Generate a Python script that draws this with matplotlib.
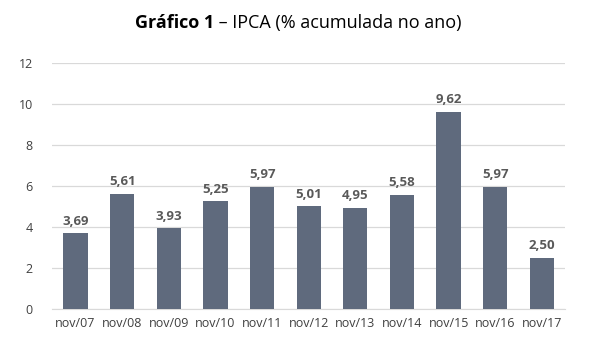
import matplotlib
matplotlib.use("Agg")
import matplotlib.pyplot as plt

categories = ["nov/07", "nov/08", "nov/09", "nov/10", "nov/11", "nov/12",
              "nov/13", "nov/14", "nov/15", "nov/16", "nov/17"]
values = [3.69, 5.61, 3.93, 5.25, 5.97, 5.01, 4.95, 5.58, 9.62, 5.97, 2.50]
yticks = [0, 2, 4, 6, 8, 10, 12]

plt.rcParams['font.family'] = ['Open Sans', 'DejaVu Sans']

fig = plt.figure(figsize=(6.0, 3.52), dpi=100)
ax = fig.add_axes([0.087, 0.122, 0.855, 0.699])

x = list(range(len(categories)))
bars = ax.bar(x, values, width=0.52, color="#5F6A7D", zorder=3)
for xi, v in zip(x, values):
    ax.annotate(f"{v:.2f}".replace(".", ","), (xi, v), xytext=(0, 4),
                textcoords="offset points", ha="center", va="bottom",
                fontsize=9.5, fontweight="bold", color="#595959")

ax.set_xlim(-0.5, len(categories) - 0.5)
ax.set_ylim(0, 12)
ax.set_yticks(yticks)
ax.set_yticklabels([str(t) for t in yticks])
ax.set_xticks(x)
ax.set_xticklabels(categories)
ax.tick_params(axis="both", length=0, labelsize=9, colors="#404040")
ax.tick_params(axis="y", pad=14)
ax.tick_params(axis="x", pad=6)
ax.grid(axis="y", color="#D9D9D9", linewidth=0.9, zorder=0)
for s in ["top", "right", "left"]:
    ax.spines[s].set_visible(False)
ax.spines["bottom"].set_color("#D9D9D9")

t1 = fig.text(0.5, 0.935, "Gráfico 1", fontsize=13, fontweight="bold",
              ha="right", va="center", color="#000000")
fig.canvas.draw()
r = fig.canvas.get_renderer()
w1 = t1.get_window_extent(r).width
t2 = fig.text(0.5, 0.935, " – IPCA (% acumulada no ano)", fontsize=13,
              ha="left", va="center", color="#000000")
w2 = t2.get_window_extent(r).width
total = w1 + w2
cx = 298 / 600
left = cx - total / 2 / 600
t1.set_x(left + w1 / 600)
t2.set_x(left + w1 / 600)

fig.savefig("out.png", dpi=100)
